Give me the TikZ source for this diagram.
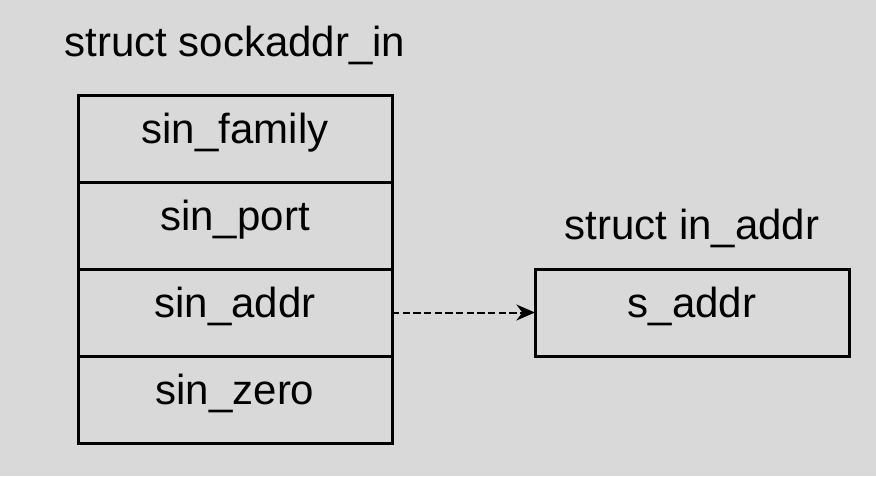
\documentclass[tikz,border=0pt]{standalone}
\usepackage{fontspec}
\setmainfont{Liberation Sans}
\usetikzlibrary{arrows.meta,positioning}
\definecolor{bggray}{HTML}{D9D9D9}

\tikzset{
    field/.style={draw, line width=2.25pt, minimum width=235.5pt, minimum height=65.25pt,
        inner sep=0pt, outer sep=0pt, text height=0.9em, text depth=0.21em,
        font=\fontsize{31.5}{36}\selectfont},
    title/.style={font=\fontsize{31.5}{36}\selectfont},
    ptr/.style={dash pattern=on 5.5pt off 2.5pt, line width=1.5pt, -{Stealth[length=14pt,width=12pt]}}
}

\begin{document}
\begin{tikzpicture}[x=0.75pt, y=-0.75pt]
    % background
    \fill[bggray] (0,0) rectangle (876,476);
    \useasboundingbox (0,0) rectangle (876,476);

    % struct sockaddr_in
    \node[title] (sockaddrtitle) at (235,45) {struct sockaddr\_in};
    \node[field] (family) at (235,138.5) {sin\_family};
    \node[field, below=0pt of family] (port) {sin\_port};
    \node[field, below=0pt of port] (addr) {sin\_addr};
    \node[field, below=0pt of addr] (zero) {sin\_zero};

    % struct in_addr
    \node[title] (inaddrtitle) at (692,228) {struct in\_addr};
    \node[field] (saddr) at (692,312.5) {s\_addr};

    % pointer
    \draw[ptr] (addr.east) -- (saddr.west);
\end{tikzpicture}
\end{document}
